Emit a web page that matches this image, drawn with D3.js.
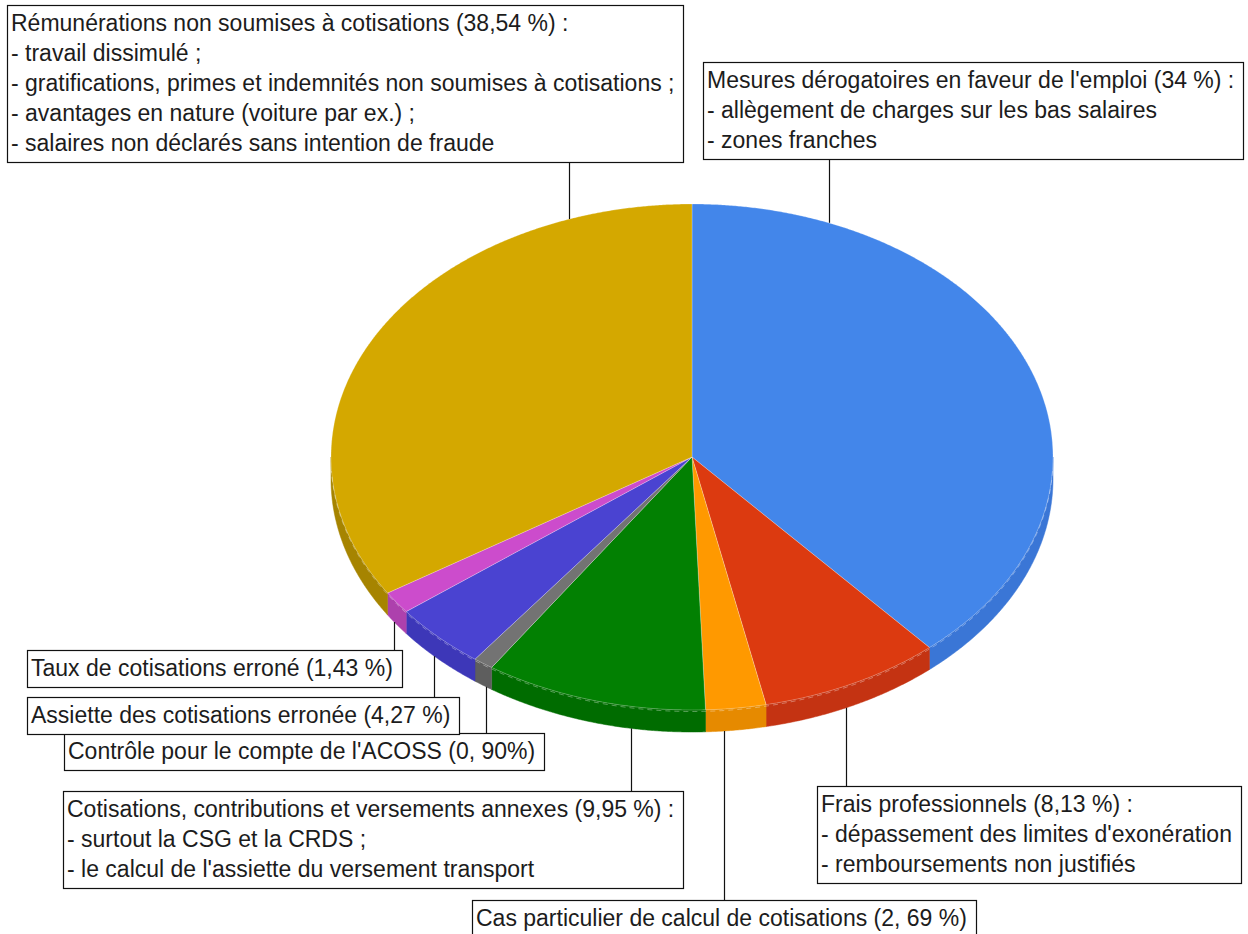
<!DOCTYPE html>
<html>
<head>
<meta charset="utf-8">
<script src="https://cdn.jsdelivr.net/npm/d3@7/dist/d3.min.js"></script>
<style>
    body { margin: 0; background: #fff; }
    svg text { font-family: "Liberation Sans", Arial, sans-serif; font-size: 23px; fill: #1c1c1c; }
</style>
</head>
<body>
<div id="chart-area"></div>
<script>
// Slices, clockwise from 12 o'clock (sizes as drawn)
var categories = ["mesures", "frais", "cas", "cotisations", "controle", "assiette", "taux", "remunerations"];
var values = [38.54, 8.13, 2.69, 9.95, 0.90, 4.27, 1.43, 34];

var labelTexts = [
    ["Mesures dérogatoires en faveur de l'emploi (34 %) :", "- allègement de charges sur les bas salaires", "- zones franches"],
    ["Frais professionnels (8,13 %) :", "- dépassement des limites d'exonération", "- remboursements non justifiés"],
    ["Cas particulier de calcul de cotisations (2, 69 %)"],
    ["Cotisations, contributions et versements annexes (9,95 %) :", "- surtout la CSG et la CRDS ;", "- le calcul de l'assiette du versement transport"],
    ["Contrôle pour le compte de l'ACOSS (0, 90%)"],
    ["Assiette des cotisations erronée (4,27 %)"],
    ["Taux de cotisations erroné (1,43 %)"],
    ["Rémunérations non soumises à cotisations (38,54 %) :", "- travail dissimulé ;", "- gratifications, primes et indemnités non soumises à cotisations ;", "- avantages en nature (voiture par ex.) ;", "- salaires non déclarés sans intention de fraude"]
];

// Colours
var topColor = d3.scaleOrdinal()
    .domain(categories)
    .range(["#4386ea", "#dc3a10", "#ff9900", "#028002", "#737373", "#4a43d1", "#cc4ccc", "#d4a800"]);
var sideColor = d3.scaleOrdinal()
    .domain(categories)
    .range(["#3a76d6", "#c43312", "#e68a00", "#006c00", "#5e5e5e", "#3d37b8", "#ad41ad", "#a68400"]);

// Label boxes: top-left corner, and where along the slice the leader starts
var labelLayout = {
    mesures:       { left: 703, top: 62,  at: 0.16 },
    frais:         { left: 817, top: 786, at: 0.54 },
    cas:           { left: 472, top: 900, at: 0.70 },
    cotisations:   { left: 63,  top: 791, at: 0.33 },
    controle:      { left: 64,  top: 733, at: 0.34 },
    assiette:      { left: 27,  top: 697, at: 0.56 },
    taux:          { left: 27,  top: 650, at: 0.63 },
    remunerations: { left: 7,   top: 5,   at: 0.838 }
};

var width = 1248;
var height = 934;

var cx = 692, cy = 457, rx = 361, ry = 253, depth = 22;
var lineHeight = 30, padX = 4, padTop = 3, padBottom = 4;

// unit circle -> screen ellipse
var x = d3.scaleLinear().domain([-1, 1]).range([cx - rx, cx + rx]);
var y = d3.scaleLinear().domain([-1, 1]).range([cy - ry, cy + ry]);

function px(a) { return x(Math.sin(a)); }
function py(a) { return y(-Math.cos(a)); }

function sampleAngles(s, e) {
    var n = Math.max(2, Math.ceil((e - s) / 0.005));
    return d3.range(n + 1).map(function(i) { return s + (e - s) * i / n; });
}

var line = d3.line();

var svg = d3.select("#chart-area")
    .append("svg")
        .attr("width", width)
        .attr("height", height);

var pie = d3.pie().sort(null).value(function(d) { return d.value; });

var data = categories.map(function(c, i) {
    return { name: c, value: values[i], lines: labelTexts[i] };
});
var arcs = pie(data);

// Side wall (only the front half is visible)
svg.append("g").attr("class", "walls")
    .selectAll("path")
    .data(arcs.filter(function(d) {
        return d.endAngle > Math.PI / 2 && d.startAngle < 3 * Math.PI / 2;
    }))
    .enter()
    .append("path")
        .attr("d", function(d) {
            var s = Math.max(d.startAngle, Math.PI / 2);
            var e = Math.min(d.endAngle, 3 * Math.PI / 2);
            var angles = sampleAngles(s, e);
            var pts = angles.map(function(a) { return [px(a), py(a)]; })
                .concat(angles.slice().reverse().map(function(a) { return [px(a), py(a) + depth]; }));
            return line(pts) + "Z";
        })
        .attr("fill", function(d) { return sideColor(d.data.name); })
        .attr("stroke", function(d) { return sideColor(d.data.name); })
        .attr("stroke-width", 0.5);

// Top face
svg.append("g").attr("class", "slices")
    .selectAll("path")
    .data(arcs)
    .enter()
    .append("path")
        .attr("d", function(d) {
            var pts = [[cx, cy]].concat(sampleAngles(d.startAngle, d.endAngle).map(function(a) {
                return [px(a), py(a)];
            }));
            return line(pts) + "Z";
        })
        .attr("fill", function(d) { return topColor(d.data.name); })
        .attr("stroke", "rgba(255,255,255,0.3)")
        .attr("stroke-width", 0.8)
        .attr("stroke-linejoin", "round");

// faint dashed highlight along the front rim
svg.append("path")
    .attr("d", line(sampleAngles(Math.PI / 2 + 0.05, 3 * Math.PI / 2 - 0.05).map(function(a) {
        return [px(a), py(a) + 1.5];
    })))
    .attr("fill", "none")
    .attr("stroke", "rgba(255,255,255,0.35)")
    .attr("stroke-width", 1)
    .attr("stroke-dasharray", "5,4");

// Labels
var labels = svg.append("g").attr("class", "labels")
    .selectAll("g")
    .data(arcs)
    .enter()
    .append("g");

labels.each(function(d) {
    var g = d3.select(this);
    var pos = labelLayout[d.data.name];
    var boxH = d.data.lines.length * lineHeight + padTop + padBottom;

    var rect = g.append("rect")
        .attr("x", pos.left + 0.5)
        .attr("y", pos.top + 0.5)
        .attr("height", boxH)
        .attr("fill", "#fff")
        .attr("stroke", "#111")
        .attr("stroke-width", 1.2);

    var maxW = 0;
    d.data.lines.forEach(function(t, i) {
        var txt = g.append("text")
            .attr("x", pos.left + padX)
            .attr("y", pos.top + padTop + i * lineHeight + 23)
            .text(t);
        maxW = Math.max(maxW, txt.node().getComputedTextLength());
    });
    rect.attr("width", Math.round(maxW) + 2 * padX + 5);

    // leader line from the pie edge to the box
    var a = d.startAngle + pos.at * (d.endAngle - d.startAngle);
    var lx = Math.round(px(a)) + 0.5;
    var ly = py(a) + (Math.cos(a) < 0 ? depth : 0);
    var by = (pos.top + boxH / 2 < ly) ? pos.top + boxH : pos.top;
    g.append("line")
        .attr("x1", lx)
        .attr("x2", lx)
        .attr("y1", ly)
        .attr("y2", by + 0.5)
        .attr("stroke", "#111")
        .attr("stroke-width", 1.2);
});
</script>
</body>
</html>
